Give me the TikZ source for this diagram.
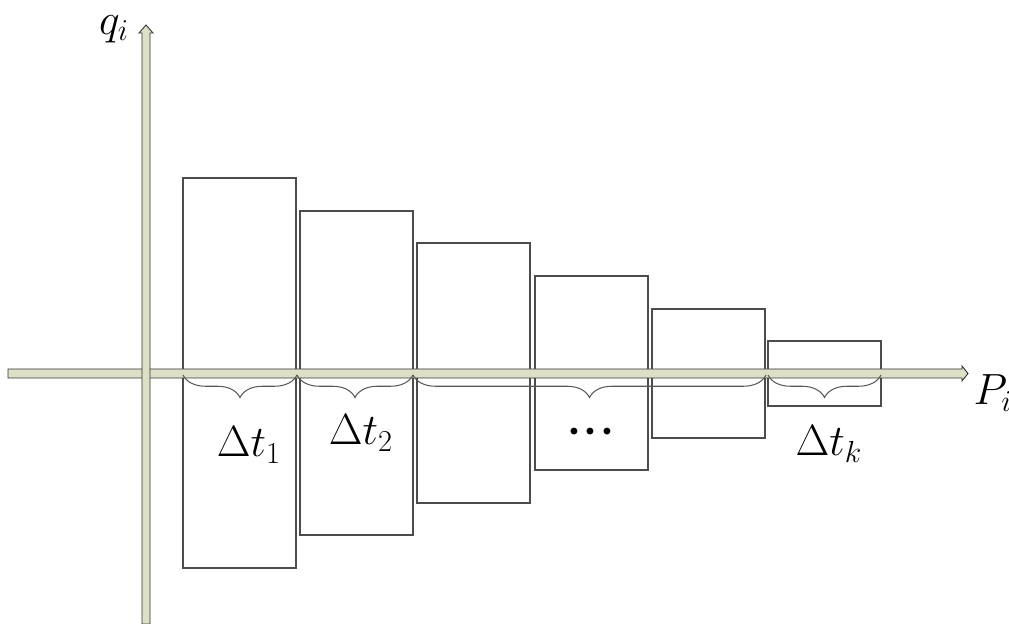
\documentclass[tikz,border=0pt]{standalone}
\usepackage{amsmath}
\usepackage{amssymb}
\usetikzlibrary{decorations.pathreplacing}

\definecolor{axisfill}{RGB}{221,224,198}

\begin{document}
\begin{tikzpicture}[%
    x=0.02cm, y=-0.02cm,
    bar/.style={draw=black!70, line width=0.6pt},
    axis/.style={fill=axisfill, draw=black!80, line width=0.5pt, line join=miter},
    brc/.style={draw=black!65, line width=0.6pt, decorate,
                decoration={brace, mirror, amplitude=0.45cm}},
    lbl/.style={font=\fontsize{26}{30}\selectfont, inner sep=0pt}
    ]

    \useasboundingbox (0,0) rectangle (1009,624);

    % bars of decreasing height
    \foreach \l/\t/\b in {183/178/568, 300/211/535, 417/243/503,
                          535/276/470, 652/309/438, 768/341/406}
        \draw[bar] (\l,\t) rectangle (\l+113,\b);

    % axes
    \draw[axis] (8,369) -- (962,369) -- (962,366) -- (968,373.5)
        -- (962,381) -- (962,378) -- (8,378) -- cycle;
    \draw[axis] (142,624) -- (142,33) -- (139,33) -- (146,25)
        -- (153,33) -- (150,33) -- (150,624) -- cycle;

    % brace ends on the P axis
    \coordinate (t0) at (183,375);
    \coordinate (t1) at (297,375);
    \coordinate (t2) at (413,375);
    \coordinate (t3) at (766,375);
    \coordinate (t4) at (768,375);
    \coordinate (t5) at (881,375);

    \draw[brc] (t0) -- (t1);
    \draw[brc] (t1) -- (t2);
    \draw[brc] (t2) -- (t3);
    \draw[brc] (t4) -- (t5);

    \node[lbl] (q) at (114,29) {$q_i$};
    \node[lbl] (p) at (993,393) {$P_i$};
    \node[lbl] (d1) at (249,445) {$\Delta t_1$};
    \node[lbl] (d2) at (361,433) {$\Delta t_2$};
    \node[lbl] (dd) at (591,432) {$\boldsymbol{\cdot}\!\boldsymbol{\cdot}\!\boldsymbol{\cdot}$};
    \node[lbl] (dk) at (829,444) {$\Delta t_k$};

\end{tikzpicture}
\end{document}
